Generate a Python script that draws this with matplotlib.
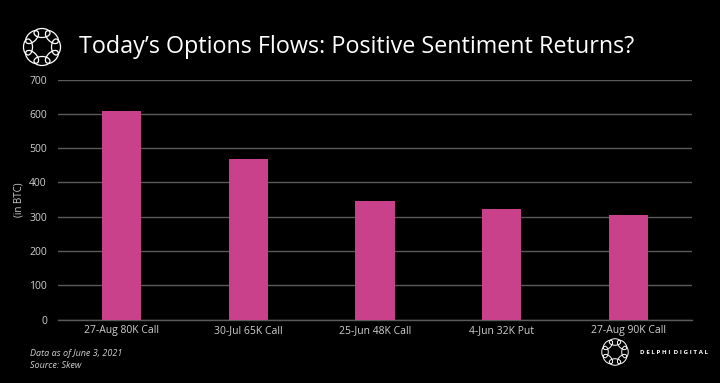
import matplotlib
matplotlib.use("Agg")
import matplotlib.pyplot as plt
from matplotlib.patches import Ellipse
import numpy as np

categories = ["27-Aug 80K Call", "30-Jul 65K Call", "25-Jun 48K Call", "4-Jun 32K Put", "27-Aug 90K Call"]
values = [607, 468, 347, 322, 306]
yticks = [0, 100, 200, 300, 400, 500, 600, 700]

title = "Today\u2019s Options Flows: Positive Sentiment Returns?"
ylabel = "(in BTC)"
note1 = "Data as of June 3, 2021"
note2 = "Source: Skew"
brand = "D E L P H I  D I G I T A L"

plt.rcParams['font.family'] = ['Open Sans', 'DejaVu Sans']

fig = plt.figure(figsize=(7.2, 3.83), dpi=100, facecolor='black')
ax = fig.add_axes([58/720, 1-319.5/383, (692-58)/720, 240/383])
ax.set_facecolor('black')

x = np.arange(len(categories))
ax.bar(x, values, width=0.31, color='#c9418a', zorder=3)
ax.set_xlim(-0.5, len(categories)-0.5)
ax.set_ylim(0, 700)
ax.set_yticks(yticks)
ax.set_xticks(x)
ax.set_xticklabels(categories)
ax.yaxis.grid(True, color='#5a5a5a', linewidth=1.0, zorder=0)
ax.set_axisbelow(True)
for s in ['top', 'right', 'left']:
    ax.spines[s].set_visible(False)
ax.spines['bottom'].set_color('#5a5a5a')
ax.spines['bottom'].set_linewidth(1.0)
ax.tick_params(axis='both', length=0, colors='#d0d0d0', labelsize=7.5)
ax.tick_params(axis='y', pad=8)
ax.tick_params(axis='x', pad=4)
ax.set_ylabel(ylabel, color='#d0d0d0', fontsize=7, labelpad=3)

fig.text(79/720, 1-47/383, title, color='white', fontsize=16.8, va='center', ha='left')

fig.text(30/720, 1-354/383, note1, color='#d0d0d0', fontsize=6.5, style='italic', va='center')
fig.text(30/720, 1-366/383, note2, color='#d0d0d0', fontsize=6.5, style='italic', va='center')
fig.text(640/720, 1-352/383, brand, color='white', fontsize=4.5, va='center', ha='left', weight='bold')

lax = fig.add_axes([0, 0, 1, 1], facecolor='none')
lax.set_xlim(0, 720)
lax.set_ylim(383, 0)
lax.axis('off')

def logo(cx, cy, r, er_w, er_h, lw):
    for k in range(8):
        a = np.pi/2 + k*np.pi/4
        ex = cx + r*np.cos(a)
        ey = cy - r*np.sin(a)
        ang = np.degrees(a) + 90
        lax.add_patch(Ellipse((ex, ey), er_w, er_h, angle=-ang, fill=False,
                              edgecolor='white', linewidth=lw))

logo(42, 47, 14, 16, 9, 0.9)
logo(615, 352, 10, 11.5, 6.5, 0.7)

fig.savefig('out.png', dpi=100, facecolor='black')
